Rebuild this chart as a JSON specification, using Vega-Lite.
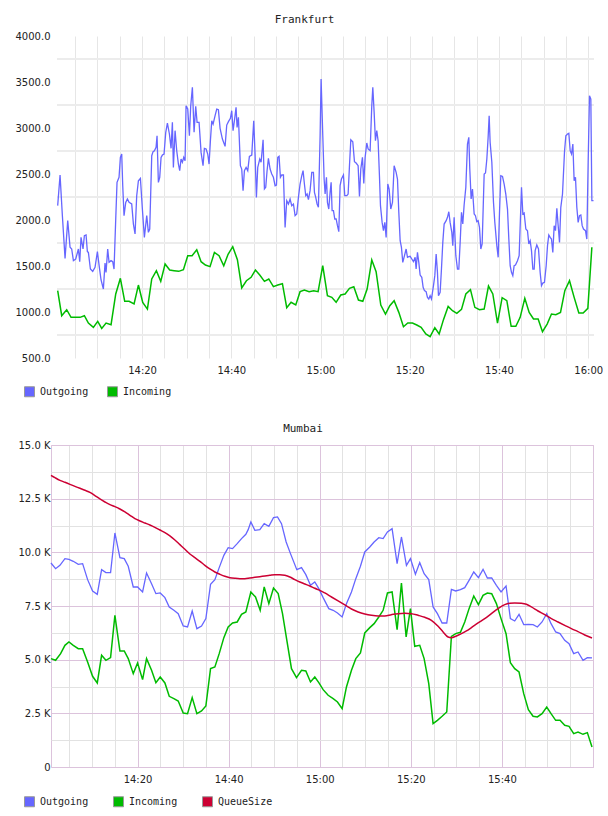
{
  "$schema": "https://vega.github.io/schema/vega-lite/v6.json",
  "background": "white",
  "padding": {"left": 15, "top": 14, "right": 0, "bottom": 0},
  "spacing": 23,
  "resolve": {"scale": {"fill": "independent"}, "legend": {"fill": "independent"}},
  "config": {
    "view": {"stroke": null},
    "axis": {"labelFont": "DejaVu Sans", "labelFontSize": 10, "labelColor": "#222", "ticks": false, "domain": false, "title": null, "labelOverlap": false, "labelFlush": false},
    "title": {"font": "DejaVu Sans Mono", "fontSize": 11, "fontWeight": "normal", "color": "#222"},
    "legend": {"orient": "none", "direction": "horizontal", "title": null, "labelFont": "DejaVu Sans Mono", "labelFontSize": 10, "labelColor": "#222", "labelOffset": 5, "symbolType": "square", "symbolSize": 100, "symbolStrokeColor": "#999", "symbolStrokeWidth": 1, "symbolOpacity": 1}
  },
  "datasets": {
    "frankfurt": [
      {"series":"Outgoing","minute":1.09,"value":2156},{"series":"Outgoing","minute":1.62,"value":2489},{"series":"Outgoing","minute":2.14,"value":2047},{"series":"Outgoing","minute":2.74,"value":1583},{"series":"Outgoing","minute":3.34,"value":1993},{"series":"Outgoing","minute":3.86,"value":1703},{"series":"Outgoing","minute":4.23,"value":1685},{"series":"Outgoing","minute":4.61,"value":1558},{"series":"Outgoing","minute":5.13,"value":1576},{"series":"Outgoing","minute":5.73,"value":1685},{"series":"Outgoing","minute":6.03,"value":1547},{"series":"Outgoing","minute":6.32,"value":1811},{"series":"Outgoing","minute":6.77,"value":1685},{"series":"Outgoing","minute":7.07,"value":1830},{"series":"Outgoing","minute":7.45,"value":1837},{"series":"Outgoing","minute":7.74,"value":1656},{"series":"Outgoing","minute":7.97,"value":1648},{"series":"Outgoing","minute":8.42,"value":1467},{"series":"Outgoing","minute":8.94,"value":1442},{"series":"Outgoing","minute":9.46,"value":1485},{"series":"Outgoing","minute":9.99,"value":1656},{"series":"Outgoing","minute":10.43,"value":1485},{"series":"Outgoing","minute":10.81,"value":1348},{"series":"Outgoing","minute":11.33,"value":1250},{"series":"Outgoing","minute":11.70,"value":1532},{"series":"Outgoing","minute":11.93,"value":1431},{"series":"Outgoing","minute":12.30,"value":1685},{"series":"Outgoing","minute":12.60,"value":1540},{"series":"Outgoing","minute":13.05,"value":1558},{"series":"Outgoing","minute":13.42,"value":1547},{"series":"Outgoing","minute":13.72,"value":1467},{"series":"Outgoing","minute":14.10,"value":2011},{"series":"Outgoing","minute":14.39,"value":2409},{"series":"Outgoing","minute":14.84,"value":2464},{"series":"Outgoing","minute":15.14,"value":2681},{"series":"Outgoing","minute":15.44,"value":2717},{"series":"Outgoing","minute":15.67,"value":2373},{"series":"Outgoing","minute":15.96,"value":2047},{"series":"Outgoing","minute":16.34,"value":2192},{"series":"Outgoing","minute":16.71,"value":2228},{"series":"Outgoing","minute":17.09,"value":2192},{"series":"Outgoing","minute":17.68,"value":2174},{"series":"Outgoing","minute":18.06,"value":1956},{"series":"Outgoing","minute":18.43,"value":1848},{"series":"Outgoing","minute":18.80,"value":2264},{"series":"Outgoing","minute":19.18,"value":2427},{"series":"Outgoing","minute":19.63,"value":2453},{"series":"Outgoing","minute":20.07,"value":2119},{"series":"Outgoing","minute":20.52,"value":1811},{"series":"Outgoing","minute":21.05,"value":2047},{"series":"Outgoing","minute":21.42,"value":1866},{"series":"Outgoing","minute":21.72,"value":1902},{"series":"Outgoing","minute":22.17,"value":2699},{"series":"Outgoing","minute":22.47,"value":2743},{"series":"Outgoing","minute":22.77,"value":2753},{"series":"Outgoing","minute":23.14,"value":2790},{"series":"Outgoing","minute":23.36,"value":2916},{"series":"Outgoing","minute":23.66,"value":2409},{"series":"Outgoing","minute":23.96,"value":2464},{"series":"Outgoing","minute":24.26,"value":2681},{"series":"Outgoing","minute":24.56,"value":2706},{"series":"Outgoing","minute":24.93,"value":2717},{"series":"Outgoing","minute":25.31,"value":2953},{"series":"Outgoing","minute":25.68,"value":3054},{"series":"Outgoing","minute":26.13,"value":2935},{"series":"Outgoing","minute":26.50,"value":2779},{"series":"Outgoing","minute":26.80,"value":3061},{"series":"Outgoing","minute":27.02,"value":2572},{"series":"Outgoing","minute":27.40,"value":2971},{"series":"Outgoing","minute":27.77,"value":2753},{"series":"Outgoing","minute":28.15,"value":2608},{"series":"Outgoing","minute":28.44,"value":2536},{"series":"Outgoing","minute":28.74,"value":2663},{"series":"Outgoing","minute":29.04,"value":2627},{"series":"Outgoing","minute":29.34,"value":2681},{"series":"Outgoing","minute":29.64,"value":2645},{"series":"Outgoing","minute":29.86,"value":3242},{"series":"Outgoing","minute":30.24,"value":3206},{"series":"Outgoing","minute":30.61,"value":2916},{"series":"Outgoing","minute":30.91,"value":3242},{"series":"Outgoing","minute":31.28,"value":3442},{"series":"Outgoing","minute":31.66,"value":2953},{"series":"Outgoing","minute":32.03,"value":3235},{"series":"Outgoing","minute":32.33,"value":3061},{"series":"Outgoing","minute":32.78,"value":3061},{"series":"Outgoing","minute":33.23,"value":2735},{"series":"Outgoing","minute":33.67,"value":2590},{"series":"Outgoing","minute":33.97,"value":2779},{"series":"Outgoing","minute":34.35,"value":2772},{"series":"Outgoing","minute":34.72,"value":2717},{"series":"Outgoing","minute":35.02,"value":2608},{"series":"Outgoing","minute":35.32,"value":2862},{"series":"Outgoing","minute":35.62,"value":3079},{"series":"Outgoing","minute":35.92,"value":3043},{"series":"Outgoing","minute":36.37,"value":3134},{"series":"Outgoing","minute":36.74,"value":3206},{"series":"Outgoing","minute":37.11,"value":3199},{"series":"Outgoing","minute":37.49,"value":2996},{"series":"Outgoing","minute":38.01,"value":2880},{"series":"Outgoing","minute":38.61,"value":2800},{"series":"Outgoing","minute":38.98,"value":3032},{"series":"Outgoing","minute":39.36,"value":3069},{"series":"Outgoing","minute":39.80,"value":3105},{"series":"Outgoing","minute":40.10,"value":3188},{"series":"Outgoing","minute":40.40,"value":2971},{"series":"Outgoing","minute":40.70,"value":3079},{"series":"Outgoing","minute":41.07,"value":3224},{"series":"Outgoing","minute":41.30,"value":3007},{"series":"Outgoing","minute":41.60,"value":3116},{"series":"Outgoing","minute":42.04,"value":2590},{"series":"Outgoing","minute":42.34,"value":2554},{"series":"Outgoing","minute":42.64,"value":2319},{"series":"Outgoing","minute":42.94,"value":2536},{"series":"Outgoing","minute":43.32,"value":2572},{"series":"Outgoing","minute":43.69,"value":2536},{"series":"Outgoing","minute":44.06,"value":2692},{"series":"Outgoing","minute":44.59,"value":2706},{"series":"Outgoing","minute":45.03,"value":3079},{"series":"Outgoing","minute":45.33,"value":2717},{"series":"Outgoing","minute":45.63,"value":2246},{"series":"Outgoing","minute":45.93,"value":2572},{"series":"Outgoing","minute":46.38,"value":2663},{"series":"Outgoing","minute":46.68,"value":2627},{"series":"Outgoing","minute":47.13,"value":2873},{"series":"Outgoing","minute":47.43,"value":2337},{"series":"Outgoing","minute":47.72,"value":2355},{"series":"Outgoing","minute":48.02,"value":2536},{"series":"Outgoing","minute":48.32,"value":2670},{"series":"Outgoing","minute":48.70,"value":2554},{"series":"Outgoing","minute":49.07,"value":2500},{"series":"Outgoing","minute":49.44,"value":2464},{"series":"Outgoing","minute":49.82,"value":2373},{"series":"Outgoing","minute":50.12,"value":2380},{"series":"Outgoing","minute":50.42,"value":2681},{"series":"Outgoing","minute":50.71,"value":2692},{"series":"Outgoing","minute":51.01,"value":2464},{"series":"Outgoing","minute":51.31,"value":2489},{"series":"Outgoing","minute":51.69,"value":2489},{"series":"Outgoing","minute":52.06,"value":1920},{"series":"Outgoing","minute":52.43,"value":2210},{"series":"Outgoing","minute":52.81,"value":2174},{"series":"Outgoing","minute":53.18,"value":2228},{"series":"Outgoing","minute":53.55,"value":2156},{"series":"Outgoing","minute":53.93,"value":2174},{"series":"Outgoing","minute":54.30,"value":2047},{"series":"Outgoing","minute":54.67,"value":2065},{"series":"Outgoing","minute":55.05,"value":2246},{"series":"Outgoing","minute":55.42,"value":2391},{"series":"Outgoing","minute":55.80,"value":2482},{"series":"Outgoing","minute":56.09,"value":2536},{"series":"Outgoing","minute":56.39,"value":2391},{"series":"Outgoing","minute":56.69,"value":2264},{"series":"Outgoing","minute":56.99,"value":2282},{"series":"Outgoing","minute":57.29,"value":2221},{"series":"Outgoing","minute":57.66,"value":2319},{"series":"Outgoing","minute":58.04,"value":2518},{"series":"Outgoing","minute":58.41,"value":2518},{"series":"Outgoing","minute":58.64,"value":2301},{"series":"Outgoing","minute":58.93,"value":2246},{"series":"Outgoing","minute":59.23,"value":2174},{"series":"Outgoing","minute":59.53,"value":2138},{"series":"Outgoing","minute":59.91,"value":2916},{"series":"Outgoing","minute":60.13,"value":3532},
      {"series":"Outgoing","minute":60.51,"value":2916},{"series":"Outgoing","minute":60.81,"value":2445},{"series":"Outgoing","minute":61.03,"value":2282},{"series":"Outgoing","minute":61.33,"value":2464},{"series":"Outgoing","minute":61.55,"value":2192},{"series":"Outgoing","minute":61.85,"value":2119},{"series":"Outgoing","minute":62.15,"value":2301},{"series":"Outgoing","minute":62.38,"value":2409},{"series":"Outgoing","minute":62.60,"value":2101},{"series":"Outgoing","minute":62.90,"value":2101},{"series":"Outgoing","minute":63.20,"value":2011},{"series":"Outgoing","minute":63.50,"value":2011},{"series":"Outgoing","minute":63.80,"value":1938},{"series":"Outgoing","minute":64.10,"value":1873},{"series":"Outgoing","minute":64.39,"value":2373},{"series":"Outgoing","minute":64.69,"value":2445},{"series":"Outgoing","minute":65.14,"value":2489},{"series":"Outgoing","minute":65.44,"value":2264},{"series":"Outgoing","minute":65.89,"value":2264},{"series":"Outgoing","minute":66.19,"value":2282},{"series":"Outgoing","minute":66.49,"value":2590},{"series":"Outgoing","minute":66.79,"value":2873},{"series":"Outgoing","minute":67.23,"value":2851},{"series":"Outgoing","minute":67.61,"value":2634},{"series":"Outgoing","minute":67.98,"value":2619},{"series":"Outgoing","minute":68.43,"value":2590},{"series":"Outgoing","minute":68.73,"value":2257},{"series":"Outgoing","minute":69.03,"value":2554},{"series":"Outgoing","minute":69.40,"value":2681},{"series":"Outgoing","minute":69.70,"value":2398},{"series":"Outgoing","minute":70.00,"value":2681},{"series":"Outgoing","minute":70.37,"value":2837},{"series":"Outgoing","minute":70.67,"value":2772},{"series":"Outgoing","minute":71.12,"value":2753},{"series":"Outgoing","minute":71.49,"value":3242},{"series":"Outgoing","minute":71.72,"value":3442},{"series":"Outgoing","minute":72.02,"value":3170},{"series":"Outgoing","minute":72.31,"value":2862},{"series":"Outgoing","minute":72.61,"value":2971},{"series":"Outgoing","minute":72.91,"value":2862},{"series":"Outgoing","minute":73.21,"value":2482},{"series":"Outgoing","minute":73.44,"value":2156},{"series":"Outgoing","minute":73.81,"value":1974},{"series":"Outgoing","minute":74.11,"value":1884},{"series":"Outgoing","minute":74.41,"value":1974},{"series":"Outgoing","minute":74.71,"value":1811},{"series":"Outgoing","minute":75.08,"value":2391},{"series":"Outgoing","minute":75.38,"value":2337},{"series":"Outgoing","minute":75.75,"value":2119},{"series":"Outgoing","minute":76.13,"value":2192},{"series":"Outgoing","minute":76.50,"value":2590},{"series":"Outgoing","minute":76.95,"value":2518},{"series":"Outgoing","minute":77.25,"value":2445},{"series":"Outgoing","minute":77.55,"value":2083},{"series":"Outgoing","minute":77.85,"value":1775},{"series":"Outgoing","minute":78.14,"value":1703},{"series":"Outgoing","minute":78.44,"value":1540},{"series":"Outgoing","minute":78.82,"value":1612},{"series":"Outgoing","minute":79.19,"value":1685},{"series":"Outgoing","minute":79.49,"value":1594},{"series":"Outgoing","minute":79.79,"value":1601},{"series":"Outgoing","minute":80.09,"value":1605},{"series":"Outgoing","minute":80.46,"value":1576},{"series":"Outgoing","minute":80.83,"value":1547},{"series":"Outgoing","minute":81.21,"value":1594},{"series":"Outgoing","minute":81.43,"value":1467},{"series":"Outgoing","minute":81.73,"value":1648},{"series":"Outgoing","minute":82.03,"value":1540},{"series":"Outgoing","minute":82.33,"value":1402},{"series":"Outgoing","minute":82.70,"value":1377},{"series":"Outgoing","minute":83.00,"value":1268},{"series":"Outgoing","minute":83.30,"value":1232},{"series":"Outgoing","minute":83.67,"value":1221},{"series":"Outgoing","minute":83.97,"value":1159},{"series":"Outgoing","minute":84.27,"value":1141},{"series":"Outgoing","minute":84.57,"value":1177},{"series":"Outgoing","minute":84.87,"value":1141},{"series":"Outgoing","minute":85.32,"value":1286},{"series":"Outgoing","minute":85.62,"value":1395},{"series":"Outgoing","minute":85.92,"value":1630},{"series":"Outgoing","minute":86.21,"value":1431},{"series":"Outgoing","minute":86.44,"value":1177},{"series":"Outgoing","minute":86.81,"value":1214},{"series":"Outgoing","minute":87.11,"value":1467},{"series":"Outgoing","minute":87.41,"value":1757},{"series":"Outgoing","minute":87.71,"value":1956},{"series":"Outgoing","minute":88.16,"value":1993},{"series":"Outgoing","minute":88.46,"value":2029},{"series":"Outgoing","minute":88.76,"value":2090},{"series":"Outgoing","minute":89.05,"value":1974},{"series":"Outgoing","minute":89.43,"value":1866},{"series":"Outgoing","minute":89.65,"value":1721},{"series":"Outgoing","minute":89.95,"value":2029},{"series":"Outgoing","minute":90.33,"value":1612},{"series":"Outgoing","minute":90.70,"value":1467},{"series":"Outgoing","minute":91.00,"value":1467},{"series":"Outgoing","minute":91.30,"value":1757},{"series":"Outgoing","minute":91.60,"value":2083},{"series":"Outgoing","minute":91.89,"value":1956},{"series":"Outgoing","minute":92.19,"value":2163},{"series":"Outgoing","minute":92.57,"value":2355},{"series":"Outgoing","minute":92.94,"value":2826},{"series":"Outgoing","minute":93.24,"value":2898},{"series":"Outgoing","minute":93.46,"value":2554},{"series":"Outgoing","minute":93.76,"value":2228},{"series":"Outgoing","minute":94.06,"value":2337},{"series":"Outgoing","minute":94.44,"value":2065},{"series":"Outgoing","minute":94.73,"value":2047},{"series":"Outgoing","minute":95.03,"value":1982},{"series":"Outgoing","minute":95.33,"value":1993},{"series":"Outgoing","minute":95.63,"value":1920},{"series":"Outgoing","minute":95.93,"value":1685},{"series":"Outgoing","minute":96.23,"value":1739},{"series":"Outgoing","minute":96.68,"value":2500},{"series":"Outgoing","minute":96.98,"value":2511},{"series":"Outgoing","minute":97.28,"value":2663},{"series":"Outgoing","minute":97.57,"value":2898},{"series":"Outgoing","minute":97.80,"value":3134},{"series":"Outgoing","minute":98.02,"value":2844},{"series":"Outgoing","minute":98.40,"value":2627},{"series":"Outgoing","minute":98.77,"value":2192},{"series":"Outgoing","minute":99.07,"value":1974},{"series":"Outgoing","minute":99.52,"value":1721},{"series":"Outgoing","minute":99.82,"value":1594},{"series":"Outgoing","minute":100.12,"value":2083},{"series":"Outgoing","minute":100.41,"value":2482},{"series":"Outgoing","minute":100.79,"value":2474},{"series":"Outgoing","minute":101.16,"value":2391},{"series":"Outgoing","minute":101.53,"value":2282},{"series":"Outgoing","minute":101.91,"value":2119},{"series":"Outgoing","minute":102.21,"value":1793},{"series":"Outgoing","minute":102.51,"value":1503},{"series":"Outgoing","minute":102.80,"value":1431},{"series":"Outgoing","minute":103.10,"value":1395},{"series":"Outgoing","minute":103.40,"value":1503},{"series":"Outgoing","minute":103.70,"value":1511},{"series":"Outgoing","minute":104.15,"value":1558},{"series":"Outgoing","minute":104.52,"value":1612},{"series":"Outgoing","minute":104.82,"value":2029},{"series":"Outgoing","minute":105.05,"value":2355},{"series":"Outgoing","minute":105.35,"value":2065},{"series":"Outgoing","minute":105.64,"value":2076},{"series":"Outgoing","minute":106.02,"value":1902},{"series":"Outgoing","minute":106.39,"value":1884},{"series":"Outgoing","minute":106.69,"value":1739},{"series":"Outgoing","minute":106.99,"value":1775},{"series":"Outgoing","minute":107.29,"value":1667},{"series":"Outgoing","minute":107.59,"value":1467},{"series":"Outgoing","minute":107.89,"value":1467},{"series":"Outgoing","minute":108.11,"value":1667},{"series":"Outgoing","minute":108.48,"value":1728},{"series":"Outgoing","minute":108.86,"value":1685},{"series":"Outgoing","minute":109.23,"value":1431},{"series":"Outgoing","minute":109.53,"value":1286},{"series":"Outgoing","minute":109.83,"value":1315},{"series":"Outgoing","minute":110.20,"value":1322},{"series":"Outgoing","minute":110.58,"value":1503},{"series":"Outgoing","minute":110.88,"value":1721},{"series":"Outgoing","minute":111.17,"value":1837},{"series":"Outgoing","minute":111.47,"value":1811},{"series":"Outgoing","minute":111.77,"value":1793},{"series":"Outgoing","minute":112.07,"value":1648},{"series":"Outgoing","minute":112.37,"value":1938},{"series":"Outgoing","minute":112.67,"value":1884},{"series":"Outgoing","minute":112.97,"value":2127},{"series":"Outgoing","minute":113.27,"value":1938},{"series":"Outgoing","minute":113.57,"value":1757},{"series":"Outgoing","minute":113.86,"value":2138},{"series":"Outgoing","minute":114.24,"value":2282},{"series":"Outgoing","minute":114.69,"value":2743},{"series":"Outgoing","minute":114.99,"value":2916},{"series":"Outgoing","minute":115.36,"value":2935},{"series":"Outgoing","minute":115.66,"value":2942},{"series":"Outgoing","minute":115.96,"value":2753},{"series":"Outgoing","minute":116.26,"value":2717},{"series":"Outgoing","minute":116.56,"value":2826},{"series":"Outgoing","minute":116.85,"value":2427},{"series":"Outgoing","minute":117.15,"value":2464},{"series":"Outgoing","minute":117.45,"value":2138},{"series":"Outgoing","minute":117.75,"value":1974},{"series":"Outgoing","minute":118.05,"value":2047},{"series":"Outgoing","minute":118.35,"value":2054},{"series":"Outgoing","minute":118.65,"value":1938},{"series":"Outgoing","minute":118.95,"value":1902},{"series":"Outgoing","minute":119.39,"value":1884},{"series":"Outgoing","minute":119.69,"value":1793},{"series":"Outgoing","minute":119.99,"value":2627},{"series":"Outgoing","minute":120.29,"value":3351},{"series":"Outgoing","minute":120.59,"value":3315},{"series":"Outgoing","minute":120.82,"value":2210},{"series":"Outgoing","minute":121.19,"value":2210},
      {"series":"Incoming","minute":1.09,"value":1232},{"series":"Incoming","minute":1.99,"value":960},{"series":"Incoming","minute":3.11,"value":1025},{"series":"Incoming","minute":4.08,"value":942},{"series":"Incoming","minute":5.13,"value":942},{"series":"Incoming","minute":6.10,"value":942},{"series":"Incoming","minute":7.07,"value":960},{"series":"Incoming","minute":7.97,"value":880},{"series":"Incoming","minute":9.09,"value":833},{"series":"Incoming","minute":10.06,"value":898},{"series":"Incoming","minute":10.96,"value":822},{"series":"Incoming","minute":11.93,"value":880},{"series":"Incoming","minute":13.05,"value":862},{"series":"Incoming","minute":14.10,"value":1196},{"series":"Incoming","minute":15.14,"value":1366},{"series":"Incoming","minute":16.11,"value":1116},{"series":"Incoming","minute":17.09,"value":1116},{"series":"Incoming","minute":18.21,"value":1087},{"series":"Incoming","minute":19.18,"value":1293},{"series":"Incoming","minute":20.15,"value":1105},{"series":"Incoming","minute":21.20,"value":1032},{"series":"Incoming","minute":22.17,"value":1359},{"series":"Incoming","minute":23.21,"value":1449},{"series":"Incoming","minute":24.19,"value":1333},{"series":"Incoming","minute":25.16,"value":1522},{"series":"Incoming","minute":26.20,"value":1456},{"series":"Incoming","minute":27.17,"value":1449},{"series":"Incoming","minute":28.22,"value":1442},{"series":"Incoming","minute":29.27,"value":1460},{"series":"Incoming","minute":30.24,"value":1612},{"series":"Incoming","minute":31.21,"value":1612},{"series":"Incoming","minute":32.26,"value":1677},{"series":"Incoming","minute":33.23,"value":1547},{"series":"Incoming","minute":34.20,"value":1511},{"series":"Incoming","minute":35.24,"value":1493},{"series":"Incoming","minute":36.22,"value":1648},{"series":"Incoming","minute":37.26,"value":1612},{"series":"Incoming","minute":38.31,"value":1503},{"series":"Incoming","minute":39.28,"value":1627},{"series":"Incoming","minute":40.33,"value":1710},{"series":"Incoming","minute":41.37,"value":1569},{"series":"Incoming","minute":42.34,"value":1261},{"series":"Incoming","minute":43.39,"value":1340},{"series":"Incoming","minute":44.44,"value":1377},{"series":"Incoming","minute":45.41,"value":1456},{"series":"Incoming","minute":46.38,"value":1402},{"series":"Incoming","minute":47.43,"value":1333},{"series":"Incoming","minute":48.40,"value":1359},{"series":"Incoming","minute":49.44,"value":1275},{"series":"Incoming","minute":50.42,"value":1293},{"series":"Incoming","minute":51.46,"value":1308},{"series":"Incoming","minute":52.43,"value":1047},{"series":"Incoming","minute":53.40,"value":1105},{"series":"Incoming","minute":54.45,"value":1076},{"series":"Incoming","minute":55.42,"value":1221},{"series":"Incoming","minute":56.39,"value":1239},{"series":"Incoming","minute":57.44,"value":1221},{"series":"Incoming","minute":58.49,"value":1232},{"series":"Incoming","minute":59.46,"value":1221},{"series":"Incoming","minute":60.50,"value":1503},{"series":"Incoming","minute":61.55,"value":1177},{"series":"Incoming","minute":62.53,"value":1159},{"series":"Incoming","minute":63.50,"value":1105},{"series":"Incoming","minute":64.54,"value":1185},{"series":"Incoming","minute":65.51,"value":1196},{"series":"Incoming","minute":66.49,"value":1257},{"series":"Incoming","minute":67.46,"value":1275},{"series":"Incoming","minute":68.50,"value":1130},{"series":"Incoming","minute":69.48,"value":1116},{"series":"Incoming","minute":70.45,"value":1250},{"series":"Incoming","minute":71.49,"value":1565},{"series":"Incoming","minute":72.46,"value":1438},{"series":"Incoming","minute":73.51,"value":1076},{"series":"Incoming","minute":74.56,"value":978},{"series":"Incoming","minute":75.53,"value":1069},{"series":"Incoming","minute":76.50,"value":1123},{"series":"Incoming","minute":77.55,"value":996},{"series":"Incoming","minute":78.59,"value":840},{"series":"Incoming","minute":79.56,"value":880},{"series":"Incoming","minute":80.61,"value":880},{"series":"Incoming","minute":81.58,"value":859},{"series":"Incoming","minute":82.55,"value":833},{"series":"Incoming","minute":83.60,"value":761},{"series":"Incoming","minute":84.57,"value":732},{"series":"Incoming","minute":85.62,"value":830},{"series":"Incoming","minute":86.59,"value":761},{"series":"Incoming","minute":87.56,"value":917},{"series":"Incoming","minute":88.61,"value":1061},{"series":"Incoming","minute":89.58,"value":1014},{"series":"Incoming","minute":90.55,"value":985},{"series":"Incoming","minute":91.60,"value":1029},{"series":"Incoming","minute":92.57,"value":1196},{"series":"Incoming","minute":93.61,"value":1243},{"series":"Incoming","minute":94.59,"value":1051},{"series":"Incoming","minute":95.63,"value":1025},{"series":"Incoming","minute":96.68,"value":1032},{"series":"Incoming","minute":97.65,"value":1282},{"series":"Incoming","minute":98.62,"value":1196},{"series":"Incoming","minute":99.67,"value":880},{"series":"Incoming","minute":100.71,"value":1156},{"series":"Incoming","minute":101.76,"value":1123},{"series":"Incoming","minute":102.73,"value":844},{"series":"Incoming","minute":103.78,"value":844},{"series":"Incoming","minute":104.75,"value":942},{"series":"Incoming","minute":105.79,"value":1148},{"series":"Incoming","minute":106.77,"value":996},{"series":"Incoming","minute":107.74,"value":924},{"series":"Incoming","minute":108.78,"value":924},{"series":"Incoming","minute":109.75,"value":786},{"series":"Incoming","minute":110.80,"value":869},{"series":"Incoming","minute":111.77,"value":978},{"series":"Incoming","minute":112.74,"value":971},{"series":"Incoming","minute":113.79,"value":996},{"series":"Incoming","minute":114.76,"value":1232},{"series":"Incoming","minute":115.81,"value":1340},{"series":"Incoming","minute":116.85,"value":1159},{"series":"Incoming","minute":117.90,"value":989},{"series":"Incoming","minute":118.87,"value":989},{"series":"Incoming","minute":119.92,"value":1040},{"series":"Incoming","minute":120.82,"value":1703}
    ],
    "mumbai": [
      {"series":"Outgoing","minute":0.99,"value":9504},{"series":"Outgoing","minute":2.01,"value":9240},{"series":"Outgoing","minute":2.96,"value":9395},{"series":"Outgoing","minute":4.06,"value":9706},{"series":"Outgoing","minute":4.94,"value":9675},{"series":"Outgoing","minute":5.89,"value":9582},{"series":"Outgoing","minute":6.99,"value":9442},{"series":"Outgoing","minute":7.94,"value":9473},{"series":"Outgoing","minute":9.04,"value":8728},{"series":"Outgoing","minute":10.13,"value":8200},{"series":"Outgoing","minute":11.16,"value":8045},{"series":"Outgoing","minute":12.11,"value":9194},{"series":"Outgoing","minute":13.06,"value":9054},{"series":"Outgoing","minute":14.08,"value":9054},{"series":"Outgoing","minute":15.03,"value":10901},{"series":"Outgoing","minute":16.13,"value":9753},{"series":"Outgoing","minute":17.08,"value":9706},{"series":"Outgoing","minute":17.96,"value":9349},{"series":"Outgoing","minute":19.06,"value":8386},{"series":"Outgoing","minute":20.01,"value":8386},{"series":"Outgoing","minute":21.11,"value":8153},{"series":"Outgoing","minute":21.98,"value":9038},{"series":"Outgoing","minute":23.08,"value":8541},{"series":"Outgoing","minute":24.03,"value":8076},{"series":"Outgoing","minute":24.98,"value":8107},{"series":"Outgoing","minute":26.01,"value":7889},{"series":"Outgoing","minute":26.96,"value":7455},{"series":"Outgoing","minute":27.98,"value":7299},{"series":"Outgoing","minute":28.93,"value":7144},{"series":"Outgoing","minute":30.03,"value":6570},{"series":"Outgoing","minute":30.98,"value":6523},{"series":"Outgoing","minute":32.00,"value":7268},{"series":"Outgoing","minute":33.03,"value":6445},{"series":"Outgoing","minute":34.05,"value":6570},{"series":"Outgoing","minute":35.00,"value":6911},{"series":"Outgoing","minute":36.03,"value":8510},{"series":"Outgoing","minute":36.98,"value":8728},{"series":"Outgoing","minute":37.93,"value":9287},{"series":"Outgoing","minute":38.95,"value":9861},{"series":"Outgoing","minute":39.90,"value":10218},{"series":"Outgoing","minute":40.86,"value":10172},{"series":"Outgoing","minute":41.88,"value":10405},{"series":"Outgoing","minute":42.83,"value":10638},{"series":"Outgoing","minute":43.78,"value":10839},{"series":"Outgoing","minute":44.29,"value":11057},{"series":"Outgoing","minute":44.88,"value":11414},{"series":"Outgoing","minute":45.76,"value":11026},{"series":"Outgoing","minute":46.85,"value":11057},{"series":"Outgoing","minute":47.81,"value":11336},{"series":"Outgoing","minute":48.83,"value":11212},{"series":"Outgoing","minute":49.85,"value":11616},{"series":"Outgoing","minute":50.73,"value":11647},{"series":"Outgoing","minute":51.61,"value":11336},{"series":"Outgoing","minute":52.63,"value":10482},{"series":"Outgoing","minute":53.58,"value":9939},{"series":"Outgoing","minute":54.97,"value":9194},{"series":"Outgoing","minute":56.00,"value":9287},{"series":"Outgoing","minute":56.95,"value":8961},{"series":"Outgoing","minute":57.97,"value":8464},{"series":"Outgoing","minute":58.92,"value":8619},{"series":"Outgoing","minute":59.80,"value":8309},{"series":"Outgoing","minute":60.75,"value":7889},{"series":"Outgoing","minute":61.99,"value":7377},{"series":"Outgoing","minute":62.95,"value":7299},{"series":"Outgoing","minute":63.90,"value":7175},{"series":"Outgoing","minute":64.92,"value":6989},{"series":"Outgoing","minute":65.87,"value":7610},{"series":"Outgoing","minute":66.97,"value":8153},{"series":"Outgoing","minute":67.92,"value":8774},{"series":"Outgoing","minute":68.94,"value":9349},{"series":"Outgoing","minute":69.89,"value":10017},{"series":"Outgoing","minute":70.99,"value":10249},{"series":"Outgoing","minute":71.94,"value":10482},{"series":"Outgoing","minute":72.97,"value":10684},{"series":"Outgoing","minute":73.92,"value":10638},{"series":"Outgoing","minute":74.87,"value":10948},{"series":"Outgoing","minute":75.89,"value":11103},{"series":"Outgoing","minute":76.99,"value":9473},{"series":"Outgoing","minute":77.94,"value":10715},{"series":"Outgoing","minute":79.04,"value":9395},{"series":"Outgoing","minute":79.92,"value":9706},{"series":"Outgoing","minute":81.01,"value":8976},{"series":"Outgoing","minute":81.96,"value":9520},{"series":"Outgoing","minute":82.92,"value":9007},{"series":"Outgoing","minute":83.94,"value":8728},{"series":"Outgoing","minute":84.89,"value":7455},{"series":"Outgoing","minute":85.84,"value":7144},{"series":"Outgoing","minute":86.87,"value":6709},{"series":"Outgoing","minute":87.89,"value":6709},{"series":"Outgoing","minute":88.91,"value":8277},{"series":"Outgoing","minute":89.86,"value":8200},{"series":"Outgoing","minute":90.89,"value":8262},{"series":"Outgoing","minute":91.84,"value":8355},{"series":"Outgoing","minute":92.79,"value":8697},{"series":"Outgoing","minute":93.82,"value":9085},{"series":"Outgoing","minute":94.84,"value":8821},{"series":"Outgoing","minute":95.86,"value":9209},{"series":"Outgoing","minute":96.81,"value":8805},{"series":"Outgoing","minute":97.76,"value":8805},{"series":"Outgoing","minute":98.79,"value":8464},{"series":"Outgoing","minute":99.81,"value":8153},{"series":"Outgoing","minute":100.91,"value":8433},{"series":"Outgoing","minute":101.86,"value":6911},{"series":"Outgoing","minute":102.81,"value":6802},{"series":"Outgoing","minute":103.76,"value":7113},{"series":"Outgoing","minute":104.79,"value":6632},{"series":"Outgoing","minute":105.81,"value":6647},{"series":"Outgoing","minute":106.84,"value":6632},{"series":"Outgoing","minute":107.79,"value":6523},{"series":"Outgoing","minute":108.81,"value":6756},{"series":"Outgoing","minute":109.84,"value":7144},{"series":"Outgoing","minute":110.79,"value":6678},{"series":"Outgoing","minute":111.81,"value":6290},{"series":"Outgoing","minute":112.76,"value":6212},{"series":"Outgoing","minute":113.79,"value":5902},{"series":"Outgoing","minute":114.74,"value":5747},{"series":"Outgoing","minute":115.76,"value":5281},{"series":"Outgoing","minute":116.71,"value":5358},{"series":"Outgoing","minute":117.81,"value":4970},{"series":"Outgoing","minute":118.76,"value":5094},{"series":"Outgoing","minute":119.78,"value":5079},
      {"series":"Incoming","minute":0.99,"value":5048},{"series":"Incoming","minute":2.01,"value":4970},{"series":"Incoming","minute":3.11,"value":5281},{"series":"Incoming","minute":4.06,"value":5669},{"series":"Incoming","minute":4.94,"value":5824},{"series":"Incoming","minute":5.89,"value":5669},{"series":"Incoming","minute":6.99,"value":5514},{"series":"Incoming","minute":7.94,"value":5514},{"series":"Incoming","minute":9.04,"value":4893},{"series":"Incoming","minute":10.13,"value":4225},{"series":"Incoming","minute":11.16,"value":3914},{"series":"Incoming","minute":12.11,"value":5203},{"series":"Incoming","minute":13.06,"value":4970},{"series":"Incoming","minute":14.08,"value":5094},{"series":"Incoming","minute":15.03,"value":7066},{"series":"Incoming","minute":16.13,"value":5405},{"series":"Incoming","minute":17.08,"value":5405},{"series":"Incoming","minute":17.96,"value":5048},{"series":"Incoming","minute":19.06,"value":4349},{"series":"Incoming","minute":20.01,"value":4846},{"series":"Incoming","minute":21.11,"value":4070},{"series":"Incoming","minute":21.98,"value":5048},{"series":"Incoming","minute":23.08,"value":4504},{"series":"Incoming","minute":24.03,"value":3930},{"series":"Incoming","minute":24.98,"value":4194},{"series":"Incoming","minute":26.01,"value":3914},{"series":"Incoming","minute":26.96,"value":3293},{"series":"Incoming","minute":27.98,"value":3185},{"series":"Incoming","minute":28.93,"value":3076},{"series":"Incoming","minute":30.03,"value":2517},{"series":"Incoming","minute":30.98,"value":2486},{"series":"Incoming","minute":32.00,"value":3231},{"series":"Incoming","minute":33.03,"value":2486},{"series":"Incoming","minute":34.05,"value":2610},{"series":"Incoming","minute":35.00,"value":2843},{"series":"Incoming","minute":36.03,"value":4582},{"series":"Incoming","minute":36.98,"value":4660},{"series":"Incoming","minute":37.93,"value":5281},{"series":"Incoming","minute":38.95,"value":6026},{"series":"Incoming","minute":39.90,"value":6523},{"series":"Incoming","minute":40.86,"value":6709},{"series":"Incoming","minute":41.88,"value":6756},{"series":"Incoming","minute":42.83,"value":7113},{"series":"Incoming","minute":43.78,"value":7222},{"series":"Incoming","minute":44.88,"value":8153},{"series":"Incoming","minute":45.90,"value":7920},{"series":"Incoming","minute":46.93,"value":7299},{"series":"Incoming","minute":47.81,"value":8386},{"series":"Incoming","minute":48.83,"value":7610},{"series":"Incoming","minute":49.85,"value":8340},{"series":"Incoming","minute":50.88,"value":8076},{"series":"Incoming","minute":51.83,"value":7144},{"series":"Incoming","minute":52.78,"value":5902},{"series":"Incoming","minute":53.80,"value":4582},{"series":"Incoming","minute":54.90,"value":4163},{"series":"Incoming","minute":56.00,"value":4504},{"series":"Incoming","minute":56.95,"value":4473},{"series":"Incoming","minute":57.97,"value":3961},{"series":"Incoming","minute":58.92,"value":4194},{"series":"Incoming","minute":59.80,"value":3930},{"series":"Incoming","minute":60.75,"value":3604},{"series":"Incoming","minute":61.85,"value":3340},{"series":"Incoming","minute":62.95,"value":3185},{"series":"Incoming","minute":63.90,"value":3029},{"series":"Incoming","minute":64.92,"value":2719},{"series":"Incoming","minute":65.87,"value":3728},{"series":"Incoming","minute":66.97,"value":4504},{"series":"Incoming","minute":67.92,"value":5048},{"series":"Incoming","minute":68.94,"value":5312},{"series":"Incoming","minute":69.89,"value":6243},{"series":"Incoming","minute":70.99,"value":6492},{"series":"Incoming","minute":71.94,"value":6678},{"series":"Incoming","minute":72.97,"value":6989},{"series":"Incoming","minute":73.92,"value":7299},{"series":"Incoming","minute":74.87,"value":8107},{"series":"Incoming","minute":75.89,"value":8153},{"series":"Incoming","minute":76.99,"value":6399},{"series":"Incoming","minute":77.94,"value":8572},{"series":"Incoming","minute":78.97,"value":6057},{"series":"Incoming","minute":79.92,"value":7377},{"series":"Incoming","minute":80.86,"value":5622},{"series":"Incoming","minute":81.96,"value":5669},{"series":"Incoming","minute":82.92,"value":5048},{"series":"Incoming","minute":83.94,"value":3883},{"series":"Incoming","minute":84.89,"value":2020},{"series":"Incoming","minute":85.84,"value":2175},{"series":"Incoming","minute":86.87,"value":2362},{"series":"Incoming","minute":87.89,"value":2564},{"series":"Incoming","minute":88.91,"value":6088},{"series":"Incoming","minute":89.86,"value":6212},{"series":"Incoming","minute":90.89,"value":6274},{"series":"Incoming","minute":91.84,"value":6756},{"series":"Incoming","minute":92.79,"value":7377},{"series":"Incoming","minute":93.82,"value":7967},{"series":"Incoming","minute":94.84,"value":7563},{"series":"Incoming","minute":95.86,"value":7998},{"series":"Incoming","minute":96.81,"value":8107},{"series":"Incoming","minute":97.76,"value":8076},{"series":"Incoming","minute":98.79,"value":7610},{"series":"Incoming","minute":99.81,"value":6911},{"series":"Incoming","minute":100.91,"value":6212},{"series":"Incoming","minute":101.86,"value":4862},{"series":"Incoming","minute":102.81,"value":4582},{"series":"Incoming","minute":103.76,"value":4427},{"series":"Incoming","minute":104.79,"value":3418},{"series":"Incoming","minute":105.81,"value":2672},{"series":"Incoming","minute":106.84,"value":2362},{"series":"Incoming","minute":107.79,"value":2331},{"series":"Incoming","minute":108.81,"value":2486},{"series":"Incoming","minute":109.84,"value":2796},{"series":"Incoming","minute":110.79,"value":2486},{"series":"Incoming","minute":111.81,"value":2175},{"series":"Incoming","minute":112.76,"value":2175},{"series":"Incoming","minute":113.79,"value":1942},{"series":"Incoming","minute":114.74,"value":1896},{"series":"Incoming","minute":115.76,"value":1554},{"series":"Incoming","minute":116.71,"value":1632},{"series":"Incoming","minute":117.81,"value":1523},{"series":"Incoming","minute":118.76,"value":1601},{"series":"Incoming","minute":119.78,"value":933},
      {"series":"QueueSize","minute":0.99,"value":13588},{"series":"QueueSize","minute":1.87,"value":13479},{"series":"QueueSize","minute":2.96,"value":13355},{"series":"QueueSize","minute":4.06,"value":13262},{"series":"QueueSize","minute":5.16,"value":13168},{"series":"QueueSize","minute":6.26,"value":13075},{"series":"QueueSize","minute":7.35,"value":12982},{"series":"QueueSize","minute":8.45,"value":12889},{"series":"QueueSize","minute":9.55,"value":12796},{"series":"QueueSize","minute":10.64,"value":12641},{"series":"QueueSize","minute":11.74,"value":12485},{"series":"QueueSize","minute":12.84,"value":12346},{"series":"QueueSize","minute":13.94,"value":12221},{"series":"QueueSize","minute":15.03,"value":12128},{"series":"QueueSize","minute":16.13,"value":12019},{"series":"QueueSize","minute":17.23,"value":11880},{"series":"QueueSize","minute":18.33,"value":11724},{"series":"QueueSize","minute":19.42,"value":11569},{"series":"QueueSize","minute":20.52,"value":11461},{"series":"QueueSize","minute":21.62,"value":11367},{"series":"QueueSize","minute":22.71,"value":11274},{"series":"QueueSize","minute":23.81,"value":11165},{"series":"QueueSize","minute":24.91,"value":11041},{"series":"QueueSize","minute":26.01,"value":10917},{"series":"QueueSize","minute":27.10,"value":10762},{"series":"QueueSize","minute":28.20,"value":10575},{"series":"QueueSize","minute":29.30,"value":10358},{"series":"QueueSize","minute":30.40,"value":10141},{"series":"QueueSize","minute":31.49,"value":9923},{"series":"QueueSize","minute":32.59,"value":9753},{"series":"QueueSize","minute":33.69,"value":9582},{"series":"QueueSize","minute":34.78,"value":9395},{"series":"QueueSize","minute":35.88,"value":9225},{"series":"QueueSize","minute":36.98,"value":9085},{"series":"QueueSize","minute":38.08,"value":8976},{"series":"QueueSize","minute":39.17,"value":8883},{"series":"QueueSize","minute":40.27,"value":8821},{"series":"QueueSize","minute":41.37,"value":8790},{"series":"QueueSize","minute":42.46,"value":8774},{"series":"QueueSize","minute":43.56,"value":8774},{"series":"QueueSize","minute":44.66,"value":8805},{"series":"QueueSize","minute":45.76,"value":8836},{"series":"QueueSize","minute":46.85,"value":8867},{"series":"QueueSize","minute":47.95,"value":8899},{"series":"QueueSize","minute":49.05,"value":8930},{"series":"QueueSize","minute":50.14,"value":8961},{"series":"QueueSize","minute":51.24,"value":8961},{"series":"QueueSize","minute":52.34,"value":8930},{"series":"QueueSize","minute":53.44,"value":8852},{"series":"QueueSize","minute":54.53,"value":8728},{"series":"QueueSize","minute":55.63,"value":8619},{"series":"QueueSize","minute":56.73,"value":8526},{"series":"QueueSize","minute":57.82,"value":8433},{"series":"QueueSize","minute":58.92,"value":8324},{"series":"QueueSize","minute":60.02,"value":8231},{"series":"QueueSize","minute":61.12,"value":8107},{"series":"QueueSize","minute":62.58,"value":7920},{"series":"QueueSize","minute":64.04,"value":7734},{"series":"QueueSize","minute":65.51,"value":7548},{"series":"QueueSize","minute":66.97,"value":7361},{"series":"QueueSize","minute":68.43,"value":7222},{"series":"QueueSize","minute":69.89,"value":7128},{"series":"QueueSize","minute":71.36,"value":7066},{"series":"QueueSize","minute":72.82,"value":7035},{"series":"QueueSize","minute":74.28,"value":7035},{"series":"QueueSize","minute":75.75,"value":7097},{"series":"QueueSize","minute":77.21,"value":7144},{"series":"QueueSize","minute":78.67,"value":7160},{"series":"QueueSize","minute":80.14,"value":7144},{"series":"QueueSize","minute":81.60,"value":7066},{"series":"QueueSize","minute":83.06,"value":6973},{"series":"QueueSize","minute":84.52,"value":6833},{"series":"QueueSize","minute":85.99,"value":6554},{"series":"QueueSize","minute":87.09,"value":6290},{"series":"QueueSize","minute":88.18,"value":6057},{"series":"QueueSize","minute":88.91,"value":6026},{"series":"QueueSize","minute":90.01,"value":6104},{"series":"QueueSize","minute":91.11,"value":6212},{"series":"QueueSize","minute":92.21,"value":6337},{"series":"QueueSize","minute":93.30,"value":6492},{"series":"QueueSize","minute":94.77,"value":6709},{"series":"QueueSize","minute":96.23,"value":6911},{"series":"QueueSize","minute":97.69,"value":7144},{"series":"QueueSize","minute":99.15,"value":7377},{"series":"QueueSize","minute":100.62,"value":7563},{"series":"QueueSize","minute":101.72,"value":7625},{"series":"QueueSize","minute":102.81,"value":7641},{"series":"QueueSize","minute":104.28,"value":7625},{"series":"QueueSize","minute":105.37,"value":7579},{"series":"QueueSize","minute":106.47,"value":7455},{"series":"QueueSize","minute":107.93,"value":7268},{"series":"QueueSize","minute":109.40,"value":7097},{"series":"QueueSize","minute":110.86,"value":6911},{"series":"QueueSize","minute":112.32,"value":6756},{"series":"QueueSize","minute":113.79,"value":6600},{"series":"QueueSize","minute":115.25,"value":6445},{"series":"QueueSize","minute":116.71,"value":6306},{"series":"QueueSize","minute":118.18,"value":6150},{"series":"QueueSize","minute":119.78,"value":6011}
    ],
    "frankfurtGuides": [
      {"level": 750}, {"level": 1250}, {"level": 1750}, {"level": 2250}, {"level": 2750}, {"level": 3250}, {"level": 3750}
    ]
  },
  "vconcat": [
    {
      "width": 543,
      "height": 322,
      "title": {"text": "Frankfurt", "dx": -18, "offset": 6},
      "resolve": {"axis": {"x": "independent", "y": "independent"}},
      "layer": [
        {
          "data": {"name": "frankfurtGuides"},
          "mark": {"type": "rule", "color": "#ececec", "strokeWidth": 2},
          "encoding": {
            "y": {"field": "level", "type": "quantitative", "axis": null},
            "x": {"datum": 0.94, "type": "quantitative", "axis": null},
            "x2": {"datum": 121.3}
          }
        },
        {
          "data": {"name": "frankfurt"},
          "transform": [{"filter": "datum.series == 'Outgoing'"}],
          "mark": {"type": "line", "stroke": "#6666ff", "strokeWidth": 1.3},
          "encoding": {
            "x": {
              "field": "minute", "type": "quantitative",
              "scale": {"domain": [-0.41, 121.3], "nice": false, "zero": false},
              "axis": {
                "values": [5,10,15,20,25,30,35,40,45,50,55,60,65,70,75,80,85,90,95,100,105,110,115,120],
                "labelExpr": "datum.value % 20 ? '' : timeFormat(datetime(2000, 0, 1, 14, datum.value), '%H:%M')",
                "grid": true, "gridColor": "#e6e6e6", "gridWidth": 1, "labelPadding": 7
              }
            },
            "y": {
              "field": "value", "type": "quantitative",
              "scale": {"domain": [500, 4000], "nice": false, "zero": false},
              "axis": {"values": [500,1000,1500,2000,2500,3000,3500,4000], "format": ".1f", "grid": false, "labelPadding": 1}
            }
          }
        },
        {
          "data": {"name": "frankfurt"},
          "transform": [{"filter": "datum.series == 'Incoming'"}],
          "mark": {"type": "line", "stroke": "#00bb00", "strokeWidth": 1.5},
          "encoding": {
            "x": {"field": "minute", "type": "quantitative", "axis": null},
            "y": {"field": "value", "type": "quantitative", "axis": null}
          }
        },
        {
          "data": {"name": "frankfurt"},
          "mark": {"type": "point", "shape": "square", "filled": true, "opacity": 0},
          "encoding": {
            "x": {"field": "minute", "type": "quantitative", "axis": null},
            "y": {"field": "value", "type": "quantitative", "axis": null},
            "fill": {
              "field": "series", "type": "nominal",
              "scale": {"domain": ["Outgoing", "Incoming"], "range": ["#6666ff", "#00bb00"]},
              "legend": {"legendX": -27, "legendY": 350, "columnPadding": 16}
            }
          }
        }
      ]
    },
    {
      "width": 542,
      "height": 322,
      "title": {"text": "Mumbai", "dx": -19, "offset": 6},
      "data": {"name": "mumbai"},
      "view": {"stroke": "#dcc3dc"},
      "encoding": {
        "x": {
          "field": "minute", "type": "quantitative",
          "scale": {"domain": [1.0, 120.0], "nice": false, "zero": false},
          "axis": {
            "values": [5,10,15,20,25,30,35,40,45,50,55,60,65,70,75,80,85,90,95,100,105,110,115,120],
            "labelExpr": "datum.value % 20 || datum.value > 100 ? '' : timeFormat(datetime(2000, 0, 1, 14, datum.value), '%H:%M')",
            "gridColor": {"condition": {"test": "datum.value % 20 == 0", "value": "#dcc3dc"}, "value": "#e2e2e2"},
            "gridWidth": 1, "labelPadding": 7
          }
        },
        "y": {
          "field": "value", "type": "quantitative",
          "scale": {"domain": [0, 15000], "nice": false, "zero": false},
          "axis": {
            "values": [0,1250,2500,3750,5000,6250,7500,8750,10000,11250,12500,13750,15000],
            "labelExpr": "datum.value % 2500 ? '' : (datum.value == 0 ? '0' : format(datum.value / 1000, '.1f') + ' K')",
            "gridColor": {"condition": {"test": "datum.value % 2500 == 0", "value": "#dcc3dc"}, "value": "#e2e2e2"},
            "gridWidth": 1, "labelPadding": 1
          }
        }
      },
      "layer": [
        {
          "transform": [{"filter": "datum.series == 'Outgoing'"}],
          "mark": {"type": "line", "stroke": "#6666ff", "strokeWidth": 1.3}
        },
        {
          "transform": [{"filter": "datum.series == 'Incoming'"}],
          "mark": {"type": "line", "stroke": "#00bb00", "strokeWidth": 1.5}
        },
        {
          "transform": [{"filter": "datum.series == 'QueueSize'"}],
          "mark": {"type": "line", "stroke": "#cc0033", "strokeWidth": 1.5, "interpolate": "monotone"}
        },
        {
          "mark": {"type": "point", "shape": "square", "filled": true, "opacity": 0},
          "encoding": {
            "fill": {
              "field": "series", "type": "nominal",
              "scale": {"domain": ["Outgoing", "Incoming", "QueueSize"], "range": ["#6666ff", "#00bb00", "#cc0033"]},
              "legend": {"legendX": -27, "legendY": 351, "columnPadding": 22}
            }
          }
        }
      ]
    }
  ]
}
